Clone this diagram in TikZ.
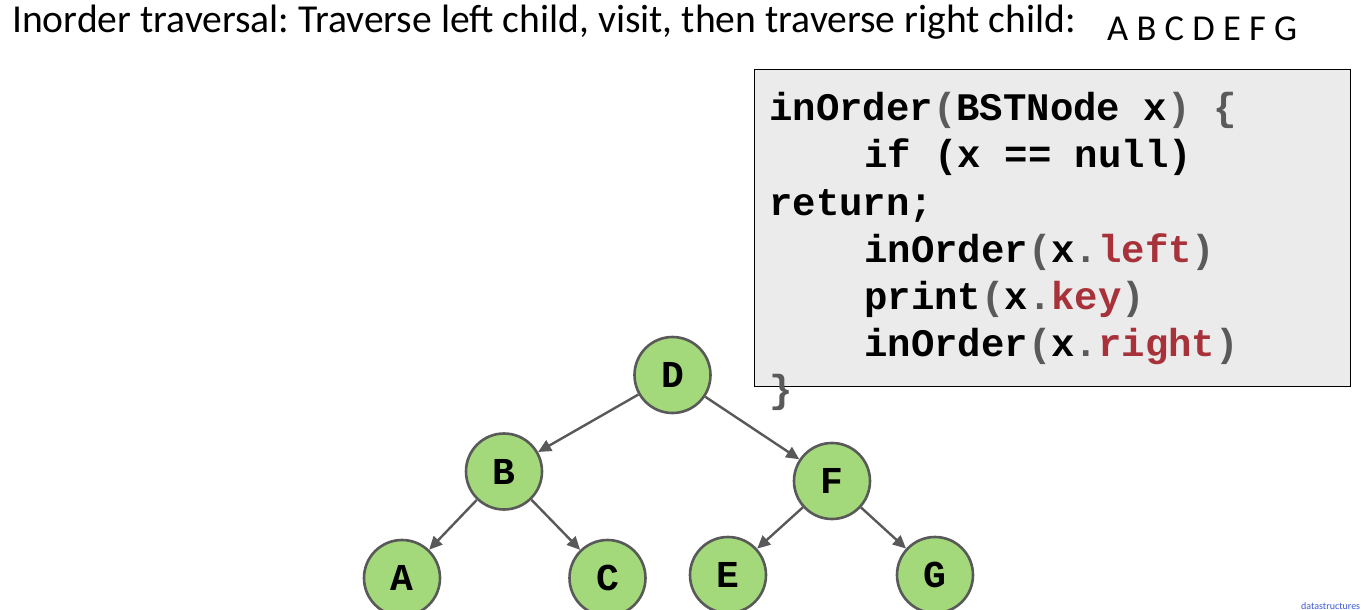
\documentclass[tikz,border=0pt]{standalone}
\usepackage{fontspec}
\setmainfont{Carlito}
\setmonofont{Liberation Mono}
\usetikzlibrary{arrows.meta}
\frenchspacing
\definecolor{nodegreen}{HTML}{A3D97A}
\definecolor{edgegray}{HTML}{595959}
\definecolor{boxgray}{HTML}{EBEBEB}
\definecolor{codered}{HTML}{A8323A}
\definecolor{punct}{HTML}{5A5A5A}
\definecolor{linkblue}{HTML}{3B5BDB}
\newcommand{\gp}[1]{\textcolor{punct}{#1}}
\newcommand{\rd}[1]{\textcolor{codered}{#1}}
\tikzset{
  treenode/.style={circle, draw=edgegray, fill=nodegreen, line width=2.6pt,
    minimum size=76pt, inner sep=0pt, font=\ttfamily\bfseries\fontsize{38}{44}\selectfont},
  treeedge/.style={draw=edgegray, line width=2.4pt, -{Triangle[length=13pt,width=12pt]}},
  codeline/.style={anchor=base west, inner sep=0pt, font=\ttfamily\bfseries\fontsize{39}{47}\selectfont},
  title/.style={anchor=base west, inner sep=0pt, font=\frenchspacing\fontsize{39.6}{44}\selectfont}
}
\begin{document}
\begin{tikzpicture}[x=1pt,y=-1pt]
\path[clip] (0,0) rectangle (1366,610);
\fill[white] (0,0) rectangle (1366,610);

\node[title] (ttl) at (12,33) {Inorder traversal: Traverse left child, visit, then traverse right child:};
\node[title, font=\fontsize{36.5}{40}\selectfont] (res) at (1107,41) {A B C D E F G};

\node[draw=black, fill=boxgray, line width=1pt, minimum width=596pt, minimum height=317pt, inner sep=0pt, anchor=north west] (box) at (754,69) {};

\node[codeline] (c1) at (769,120) {inOrder\gp{(}BSTNode x\gp{)} \gp{\{}};
\node[codeline] (c2) at (864,167) {if (x == null)};
\node[codeline] (c3) at (769,215) {return;};
\node[codeline] (c4) at (864,262) {inOrder\gp{(}x\gp{.}\rd{left}\gp{)}};
\node[codeline] (c5) at (864,309) {print\gp{(}x\gp{.}\rd{key}\gp{)}};
\node[codeline] (c6) at (864,356) {inOrder\gp{(}x\gp{.}\rd{right}\gp{)}};
\node[codeline] (c7) at (769,402) {\gp{\}}};

\node[treenode] (D) at (672.5,375) {D};
\node[treenode] (B) at (504,471.5) {B};
\node[treenode] (F) at (832,481) {F};
\node[treenode] (A) at (402,578) {A};
\node[treenode] (C) at (607.5,578) {C};
\node[treenode] (E) at (728,575) {E};
\node[treenode] (G) at (935,575) {G};

\draw[treeedge] (D) -- (B);
\draw[treeedge] (D) -- (F);
\draw[treeedge] (B) -- (A);
\draw[treeedge] (B) -- (C);
\draw[treeedge] (F) -- (E);
\draw[treeedge] (F) -- (G);

\node[anchor=base west, inner sep=0pt, text=linkblue, font=\fontsize{10}{12}\selectfont] (src) at (1301,609) {datastructures};
\end{tikzpicture}
\end{document}
